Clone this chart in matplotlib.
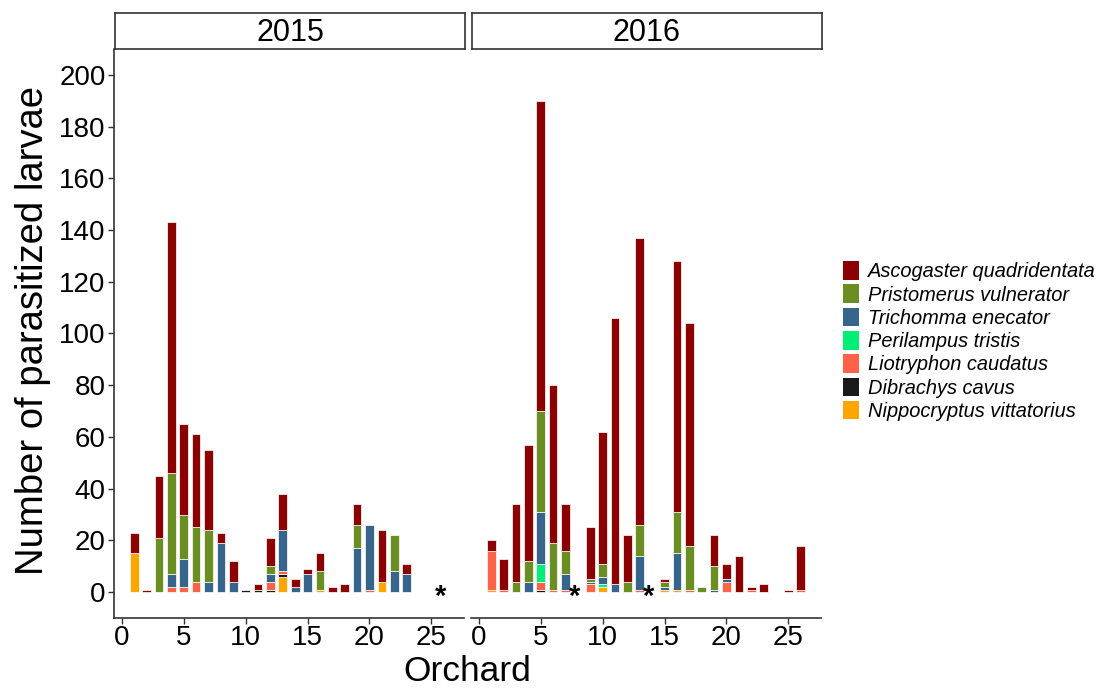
import numpy as np
import matplotlib
matplotlib.use("Agg")
import matplotlib.pyplot as plt
from matplotlib.patches import Patch

plt.rcParams["font.family"] = ["Liberation Sans", "DejaVu Sans"]

# orchards 1..26, counts of parasitized larvae per species
orchards = np.arange(1, 27)

asc_2015 = [8, 1, 24, 97, 35, 36, 31, 4, 8, 0, 2, 11, 14, 3, 2, 7, 2, 3, 8, 0, 20, 0, 4, 0, 0, 0]
pri_2015 = [0, 0, 21, 39, 17, 21, 20, 0, 0, 0, 0, 3, 0, 0, 0, 7, 0, 0, 9, 0, 0, 14, 0, 0, 0, 0]
tri_2015 = [0, 0, 0, 5, 11, 0, 4, 19, 4, 0, 0, 3, 16, 2, 7, 0, 0, 0, 17, 25, 0, 8, 7, 0, 0, 0]
per_2015 = [0] * 26
lio_2015 = [0, 0, 0, 2, 2, 4, 0, 0, 0, 0, 0, 3, 1, 0, 0, 0, 0, 0, 0, 1, 0, 0, 0, 0, 0, 0]
dib_2015 = [0, 0, 0, 0, 0, 0, 0, 0, 0, 1, 1, 1, 1, 0, 0, 0, 0, 0, 0, 0, 0, 0, 0, 0, 0, 0]
nip_2015 = [15, 0, 0, 0, 0, 0, 0, 0, 0, 0, 0, 0, 6, 0, 0, 1, 0, 0, 0, 0, 4, 0, 0, 0, 0, 0]

asc_2016 = [4, 12, 30, 45, 120, 61, 18, 0, 20, 51, 103, 18, 111, 0, 1, 97, 86, 0, 12, 6, 14, 1, 3, 0, 1, 17]
pri_2016 = [0, 0, 4, 8, 39, 18, 9, 0, 1, 5, 0, 4, 12, 0, 2, 16, 17, 2, 9, 0, 0, 0, 0, 0, 0, 0]
tri_2016 = [0, 0, 0, 4, 20, 0, 6, 0, 1, 3, 3, 0, 13, 0, 1, 14, 0, 0, 1, 1, 0, 0, 0, 0, 0, 0]
per_2016 = [0, 0, 0, 0, 7, 0, 0, 0, 0, 1, 0, 0, 0, 0, 0, 0, 0, 0, 0, 0, 0, 0, 0, 0, 0, 0]
lio_2016 = [15, 1, 0, 0, 3, 1, 1, 0, 3, 0, 0, 0, 1, 0, 0, 0, 1, 0, 0, 4, 0, 1, 0, 0, 0, 1]
dib_2016 = [0, 0, 0, 0, 1, 0, 0, 0, 0, 0, 0, 0, 0, 0, 0, 0, 0, 0, 0, 0, 0, 0, 0, 0, 0, 0]
nip_2016 = [1, 0, 0, 0, 0, 0, 0, 0, 0, 2, 0, 0, 0, 0, 1, 1, 0, 0, 0, 0, 0, 0, 0, 0, 0, 0]

# orchards without samples (marked with *)
missing_2015 = [26]
missing_2016 = [8, 14]

species = ["Ascogaster quadridentata", "Pristomerus vulnerator", "Trichomma enecator",
           "Perilampus tristis", "Liotryphon caudatus", "Dibrachys cavus",
           "Nippocryptus vittatorius"]
colors = ["#8B0000", "#6B8E23", "#36648B", "#00EE76", "#FF6347", "#1A1A1A", "#FFA500"]

years = ["2015", "2016"]
data = {
    "2015": [asc_2015, pri_2015, tri_2015, per_2015, lio_2015, dib_2015, nip_2015],
    "2016": [asc_2016, pri_2016, tri_2016, per_2016, lio_2016, dib_2016, nip_2016],
}
missing = {"2015": missing_2015, "2016": missing_2016}

fig = plt.figure(figsize=(11.02, 6.89), dpi=100)
axis_col = "#333333"
lefts = [114 / 1102, 471 / 1102]
width = 350 / 1102

for i, year in enumerate(years):
    ax = fig.add_axes([lefts[i], 0.103, width, 0.826])
    # stack from bottom (Nippocryptus) to top (Ascogaster)
    bottom = np.zeros(len(orchards))
    for vals, col in reversed(list(zip(data[year], colors))):
        vals = np.array(vals, dtype=float)
        keep = vals > 0
        ax.bar(orchards[keep], vals[keep], width=0.7, bottom=bottom[keep], color=col,
               edgecolor="white", linewidth=0.5)
        bottom += vals
    for m in missing[year]:
        ax.annotate("*", (m, 0), xytext=(-2.5, -9), textcoords="offset points",
                    ha="center", va="baseline", fontsize=21, fontweight="bold")
    ax.set_xlim(-0.635, 27.635)
    ax.set_ylim(-10, 210)
    ax.set_xticks([0, 5, 10, 15, 20, 25])
    ax.spines["top"].set_visible(False)
    ax.spines["right"].set_visible(False)
    ax.spines["bottom"].set_color(axis_col)
    ax.spines["bottom"].set_linewidth(1.2)
    ax.tick_params(axis="x", labelsize=20, length=4, width=1, color=axis_col, pad=1)
    if i == 0:
        ax.set_yticks(np.arange(0, 201, 20))
        ax.spines["left"].set_color(axis_col)
        ax.spines["left"].set_linewidth(1.2)
        ax.tick_params(axis="y", labelsize=20, length=4, width=1, color=axis_col, pad=2)
    else:
        ax.spines["left"].set_visible(False)
        ax.set_yticks([])

    # facet strip
    sax = fig.add_axes([lefts[i] + 1 / 1102, 1 - 49 / 689, width, 36 / 689])
    sax.set_xticks([])
    sax.set_yticks([])
    for s in sax.spines.values():
        s.set_color(axis_col)
        s.set_linewidth(1.2)
    sax.text(0.5, 0.45, year, ha="center", va="center", fontsize=22,
             transform=sax.transAxes)

fig.text(0.030, 0.521, "Number of parasitized larvae", rotation=90,
         ha="center", va="center", fontsize=27.5)
fig.text(0.424, 0.026, "Orchard", ha="center", va="center", fontsize=25.5)

handles = [Patch(facecolor=c, edgecolor="none") for c in colors]
fig.legend(handles, species, loc="center left", bbox_to_anchor=(0.7576, 0.505),
           frameon=False, prop={"style": "italic", "size": 14.4},
           handlelength=0.8, handleheight=1.05, labelspacing=0.16,
           handletextpad=0.45, borderaxespad=0)

fig.savefig("out.png", dpi=100)
